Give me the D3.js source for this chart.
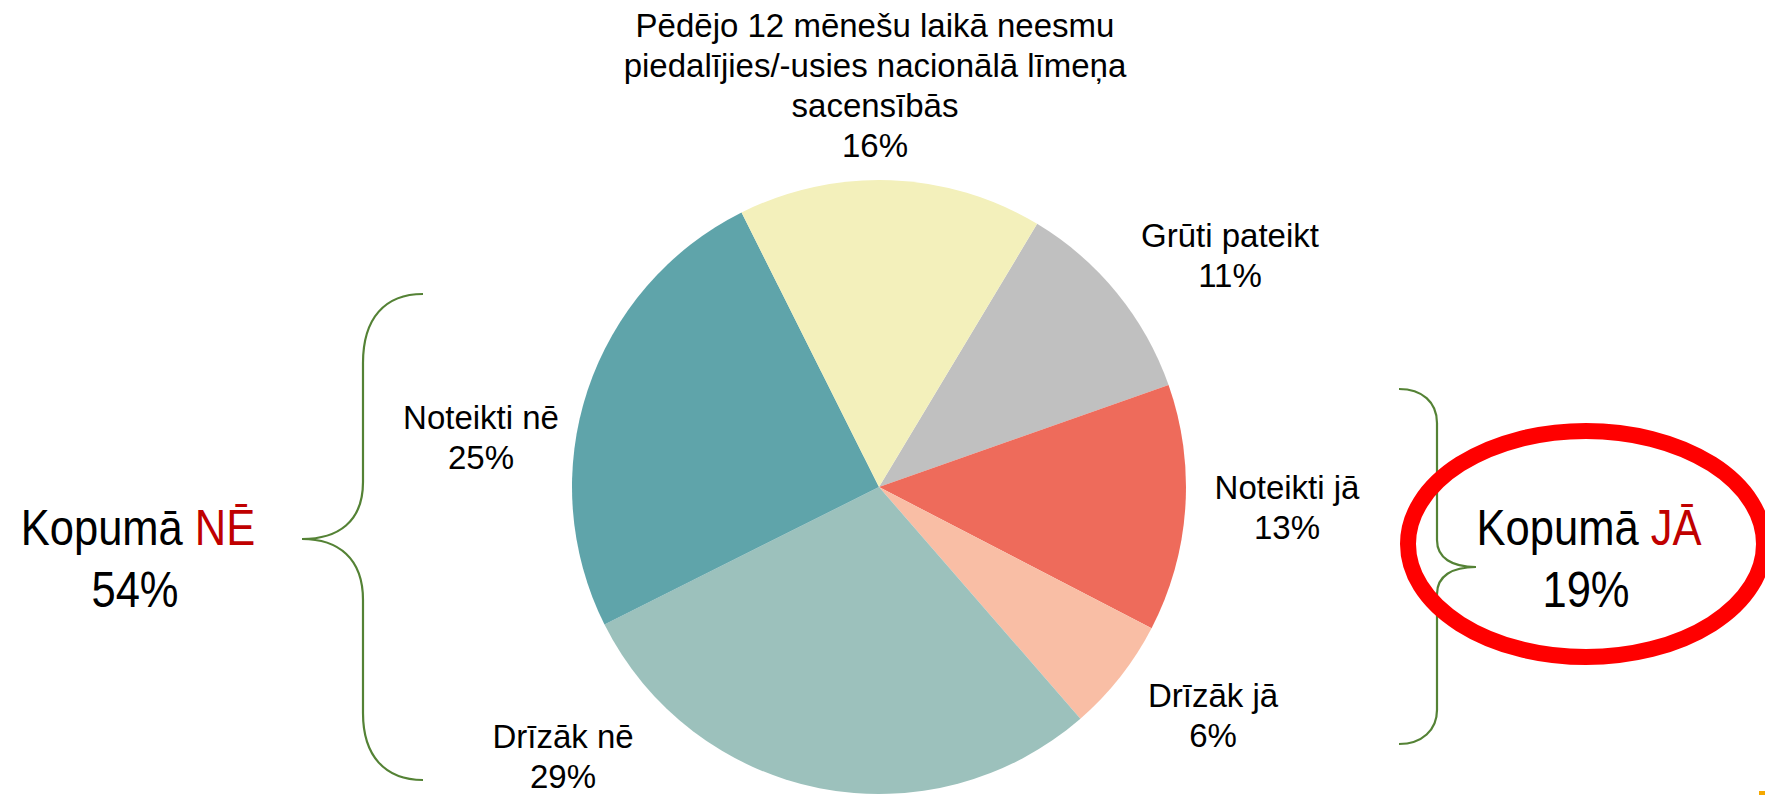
<!DOCTYPE html>
<html lang="lv">
<head>
<meta charset="utf-8">
<title>Kopumā</title>
<script src="https://d3js.org/d3.v7.min.js"></script>
<style>
  body { margin: 0; background: #fff; }
  svg text { font-family: "Liberation Sans", Arial, sans-serif; fill: #000; }
</style>
</head>
<body>
<div id="chart"></div>
<script>

// slices, clockwise from the top-right
var categories = ["Grūti pateikt", "Noteikti jā", "Drīzāk jā", "Drīzāk nē", "Noteikti nē",
  "Pēdējo 12 mēnešu laikā neesmu piedalījies/-usies nacionālā līmeņa sacensībās"];
var values = [11, 13, 6, 29, 25, 16];
var sliceColors = ["#c0c0c0", "#ee6b5b", "#f9bea5", "#9cc1bc", "#5fa4aa", "#f3f0bb"];
// label lines (wrapped as in the original)
var labelLines = [
  ["Grūti pateikt"],
  ["Noteikti jā"],
  ["Drīzāk jā"],
  ["Drīzāk nē"],
  ["Noteikti nē"],
  ["Pēdējo 12 mēnešu laikā neesmu", "piedalījies/-usies nacionālā līmeņa", "sacensībās"]
];
var groupNo = ["Drīzāk nē", "Noteikti nē"];
var groupYes = ["Noteikti jā", "Drīzāk jā"];

var width = 1765, height = 795;
var cx = 879, cy = 487, radius = 307;

var svg = d3.select("#chart").append("svg")
  .attr("width", width)
  .attr("height", height);

var pie = d3.pie().sort(null).value(function(d) { return d; })
  .startAngle(31 * Math.PI / 180)
  .endAngle((31 + 360) * Math.PI / 180);
var arc = d3.arc().innerRadius(0).outerRadius(radius);

var g = svg.append("g").attr("transform", "translate(" + cx + "," + cy + ")");

g.selectAll("path.slice")
  .data(pie(values))
  .enter()
  .append("path")
    .attr("class", "slice")
    .attr("d", arc)
    .attr("fill", function(d, i) { return sliceColors[i]; });

// label anchors (offset from pie centre, centre of text block)
var labelPos = [
  [351, -232], [408, 20], [334, 228], [-316, 269], [-398, -50], [-4, -402]
];
var lineH = 40;
var fs = 33;

var labels = g.selectAll("g.lbl")
  .data(pie(values))
  .enter()
  .append("g")
    .attr("class", "lbl")
    .attr("transform", function(d, i) { return "translate(" + labelPos[i][0] + "," + labelPos[i][1] + ")"; });

labels.each(function(d, i) {
  var lines = labelLines[i].concat([d3.format(".0f")(values[i]) + "%"]);
  var n = lines.length;
  d3.select(this).selectAll("text")
    .data(lines)
    .enter()
    .append("text")
      .attr("text-anchor", "middle")
      .attr("y", function(t, j) { return (j - (n - 1) / 2) * lineH + fs * 0.36; })
      .style("font-size", fs + "px")
      .text(function(t) { return t; });
});

// braces
var brace = svg.append("g")
  .attr("fill", "none")
  .attr("stroke", "#548235")
  .attr("stroke-width", 2.2);

brace.append("path")
  .attr("d", "M423,294 C385,294 363,318 363,363 L363,482 C363,522 338,539 302,539 C338,539 363,558 363,600 L363,713 C363,756 385,780 423,780");
brace.append("path")
  .attr("d", "M1399,389 C1422,389 1437,402 1437,423 L1437,540 C1437,558 1452,567 1476,567 C1452,567 1437,576 1437,594 L1437,710 C1437,730 1422,744 1399,744");

// red ellipse highlight
svg.append("ellipse")
  .attr("cx", 1586).attr("cy", 544)
  .attr("rx", 178).attr("ry", 113)
  .attr("fill", "none")
  .attr("stroke", "#ff0000")
  .attr("stroke-width", 16);

// totals
function total(names) {
  return d3.sum(names, function(n) { return values[categories.indexOf(n)]; });
}
var bigFs = 50, squeeze = 0.87;
function bigLabel(x1, x2, word, pct) {
  var t = svg.append("text")
    .attr("transform", "translate(" + x1 + ",545) scale(" + squeeze + ",1)")
    .attr("text-anchor", "middle")
    .style("font-size", bigFs + "px");
  t.append("tspan").text("Kopumā ");
  t.append("tspan").style("fill", "#c00000").text(word);
  svg.append("text")
    .attr("transform", "translate(" + x2 + ",607) scale(" + squeeze + ",1)")
    .attr("text-anchor", "middle")
    .style("font-size", bigFs + "px")
    .text(pct + "%");
}
bigLabel(138, 135, "NĒ", total(groupNo));
bigLabel(1589, 1586, "JĀ", total(groupYes));

// small orange mark in the corner
svg.append("rect")
  .attr("x", 1759).attr("y", 791).attr("width", 6).attr("height", 4)
  .attr("fill", "#f5a800");

</script>
</body>
</html>
